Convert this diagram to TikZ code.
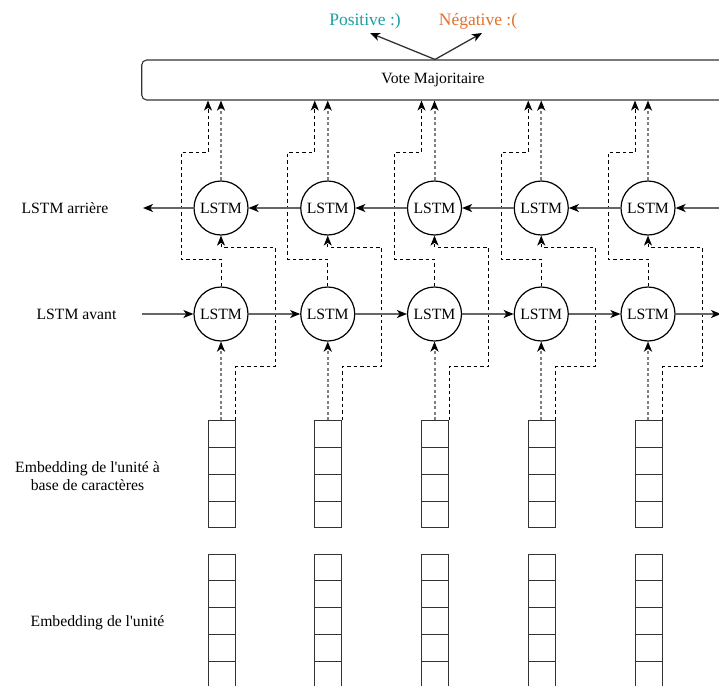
\documentclass[tikz,border=0pt]{standalone}
\usepackage{fontspec}
\setmainfont{Liberation Serif}[Ligatures=TeXOff]
\usetikzlibrary{arrows.meta,calc}
\definecolor{poscol}{RGB}{26,158,160}
\definecolor{negcol}{RGB}{226,112,44}
\tikzset{
  tip/.style={-{Stealth[length=10pt,width=8pt,inset=2.8pt,color=black]}},
  lstm/.style={draw=black,line width=1.2pt,circle,minimum size=54pt,inner sep=0pt},
  hline/.style={draw=black!60,line width=1.6pt,tip},
  bdash/.style={draw=black,line width=1pt,dash pattern=on 3.5pt off 3pt,tip},
  gdash/.style={draw=black!50,line width=2pt,dash pattern=on 3pt off 2.5pt,tip},
  cellbox/.style={draw=black!80,line width=1pt,minimum width=27pt,inner sep=0pt},
  cellline/.style={draw=black!80,line width=1pt},
  outarrow/.style={draw=black!80,line width=1.3pt,tip},
}
\begin{document}
\begin{tikzpicture}[x=1pt,y=-1pt,font=\fontsize{15.7}{18}\selectfont]
\useasboundingbox (0,0) rectangle (719,685);
\clip (0,0) rectangle (719,685);

% vote box and outputs
\node[draw=black!80,rounded corners=5pt,line width=1.1pt,minimum width=582.6pt,minimum height=40pt,inner sep=0pt] (vote) at (433,80) {Vote Majoritaire};
\node[text=poscol,font=\fontsize{17.5}{20}\selectfont] (pos) at (365,21) {Positive :)};
\node[text=negcol,font=\fontsize{17.5}{20}\selectfont] (neg) at (478,21) {Négative :(};
\coordinate (vtop) at ([xshift=2pt]vote.north);
\coordinate (ptip) at (370,33);
\coordinate (ntip) at (482,33);
\draw[outarrow] (vtop) -- (ptip);
\draw[outarrow] (vtop) -- (ntip);

% row labels
\node (lb) at (65,208) {LSTM arrière};
\node (lf) at (76.5,314) {LSTM avant};
\node[align=center] (le1) at (87.5,476) {Embedding de l'unité à\\base de caractères};
\node (le2) at (97.5,623) {Embedding de l'unité};

% columns
\foreach \i in {1,...,5} {
  \pgfmathsetmacro\c{221+106.75*(\i-1)}
  \node[lstm] (b\i) at (\c,208) {LSTM};
  \node[lstm] (f\i) at (\c,314) {LSTM};
  \node[cellbox,minimum height=107pt] (e\i) at (\c+0.5,474) {};
  \node[cellbox,minimum height=160.5pt] (u\i) at (\c+0.5,634.25) {};
  \foreach \k in {1,2,3}
    \draw[cellline] ($(e\i.north west)!\k/4!(e\i.south west)$) -- ($(e\i.north east)!\k/4!(e\i.south east)$);
  \foreach \k in {1,...,5}
    \draw[cellline] ($(u\i.north west)!\k/6!(u\i.south west)$) -- ($(u\i.north east)!\k/6!(u\i.south east)$);
  \coordinate (vb\i) at (vote.south -| b\i);
  \coordinate (vf\i) at ($(vote.south -| b\i)+(-13,0)$);
  % embedding to forward LSTM
  \draw[gdash] (f\i.south |- e\i.north) -- (f\i.south);
  % embedding to backward LSTM
  \draw[bdash] (e\i.north east) -- ++(0,-53.5) -| ($(b\i)+(54,39)$) -| (b\i.south);
  % forward LSTM to vote
  \draw[bdash] (f\i.north) -- ++(0,-27) -- ++(-40,0) |- ++(27,-107) -- (vf\i);
  % backward LSTM to vote
  \draw[gdash] (b\i.north) -- (vb\i);
}

% horizontal recurrences
\coordinate (fin) at (142,314);
\coordinate (fout) at (721,314);
\coordinate (bin) at (725,208);
\coordinate (bout) at (143,208);
\draw[hline] (fin) -- (f1.west);
\draw[hline] (bin) -- (b5.east);
\foreach \i/\j in {1/2,2/3,3/4,4/5} {
  \draw[hline] (f\i.east) -- (f\j.west);
  \draw[hline] (b\j.west) -- (b\i.east);
}
\draw[hline] (f5.east) -- (fout);
\draw[hline] (b1.west) -- (bout);
\end{tikzpicture}
\end{document}
